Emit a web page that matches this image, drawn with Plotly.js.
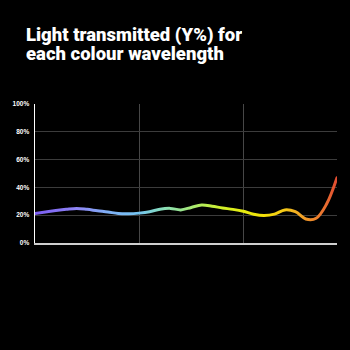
<!DOCTYPE html>
<html>
<head>
<meta charset="utf-8">
<script src="https://cdn.plot.ly/plotly-3.0.1.min.js"></script>
<style>
html,body{margin:0;padding:0;background:#000;}
#chart{width:350px;height:350px;}
</style>
</head>
<body>
<div id="chart"></div>
<script>
// Wavelength (nm) and light transmitted (Y%)
var wavelengths = [400,410,420,430,440,450,460,470,480,490,500,510,520,530,540,550,560,570,580,590,600,610,620,630,640,650,660,670,680,690];
var transmitted = [21.2,22.3,23.3,24.2,24.9,24.2,23.2,22.3,21.2,21.0,21.5,22.5,24.3,24.9,23.8,25.6,27.3,26.5,25.2,24.2,22.8,20.7,19.8,20.8,23.8,22.5,17.3,17.8,28.0,47.0];
var yTickVals = [0,20,40,60,80,100];
var yTickText = ["0%","20%","40%","60%","80%","100%"];
var gridVals = [20,40,60,80];
var titleLines = ["Light transmitted (Y%) for", "each colour wavelength"];

// colour stops along the wavelength (style)
var colourStops = [
  [400,"#7a5cf2"],[440,"#8f85f5"],[470,"#7fb0f5"],[500,"#74c4f0"],
  [520,"#86dcc0"],[540,"#98e490"],[560,"#b4ec5a"],[580,"#d2f028"],
  [600,"#e6ec10"],[620,"#f4e008"],[640,"#f4c818"],[660,"#f09828"],
  [680,"#e86a30"],[690,"#e04a30"]
];

var trace = {
  x: wavelengths, y: transmitted, type: "scatter", mode: "lines",
  line: {shape: "spline", smoothing: 1, width: 3, color: "#b4ec5a"},
  hoverinfo: "skip", showlegend: false
};
var gridTrace = {
  x: [wavelengths[0]], y: [0], yaxis: "y2", type: "scatter", mode: "markers",
  marker: {opacity: 0}, hoverinfo: "skip", showlegend: false
};

var titleFont = {family: "Roboto, Liberation Sans, sans-serif", size: 18.5, color: "#fff", weight: 900};
var annotations = titleLines.map(function(t, i){
  return {
    text: t, showarrow: false, xref: "paper", yref: "paper",
    xanchor: "left", yanchor: "top", height: 18.5, valign: "bottom",
    x: (25 - 35) / 302, y: 1 + (104 - (26 + i * 18.5)) / 139,
    font: titleFont, align: "left", borderpad: 0
  };
});

var layout = {
  width: 350, height: 350,
  paper_bgcolor: "#000", plot_bgcolor: "#000",
  margin: {l: 35, r: 13, t: 104, b: 107},
  annotations: annotations,
  xaxis: {
    range: [400, 690], dtick: 100, tick0: 400,
    showgrid: true, gridcolor: "#474747", gridwidth: 1,
    showticklabels: false, ticks: "", zeroline: false,
    showline: true, linecolor: "#cfcfcf", linewidth: 2
  },
  yaxis: {
    range: [0, 100], tickvals: yTickVals, ticktext: yTickText,
    showgrid: false, zeroline: false, ticks: "",
    showline: true, linecolor: "#ffffff", linewidth: 1.5,
    ticklabelstandoff: 3,
    tickfont: {family: "Liberation Sans, Arial, sans-serif", size: 6.5, color: "#fff", weight: "bold"}
  },
  yaxis2: {
    overlaying: "y", range: [0, 100], tickvals: gridVals,
    showgrid: true, gridcolor: "#3c3c3c", gridwidth: 1,
    showticklabels: false, ticks: "", zeroline: false, showline: false
  }
};

Plotly.newPlot("chart", [gridTrace, trace], layout, {staticPlot: true}).then(function(gd){
  var svgNS = "http://www.w3.org/2000/svg";
  var defs = gd.querySelector("svg.main-svg defs");
  var grad = document.createElementNS(svgNS, "linearGradient");
  grad.setAttribute("id", "wlgrad");
  grad.setAttribute("x1", "0"); grad.setAttribute("x2", "1");
  grad.setAttribute("y1", "0"); grad.setAttribute("y2", "0");
  var lo = wavelengths[0], hi = wavelengths[wavelengths.length-1];
  colourStops.forEach(function(s){
    var st = document.createElementNS(svgNS, "stop");
    st.setAttribute("offset", ((s[0]-lo)/(hi-lo)).toFixed(4));
    st.setAttribute("stop-color", s[1]);
    grad.appendChild(st);
  });
  defs.appendChild(grad);
  var paths = gd.querySelectorAll(".scatterlayer .trace path.js-line");
  var p = paths[paths.length-1];
  if (p) { p.style.stroke = "url(#wlgrad)"; p.style.strokeLinecap = "round"; }
});
</script>
</body>
</html>
